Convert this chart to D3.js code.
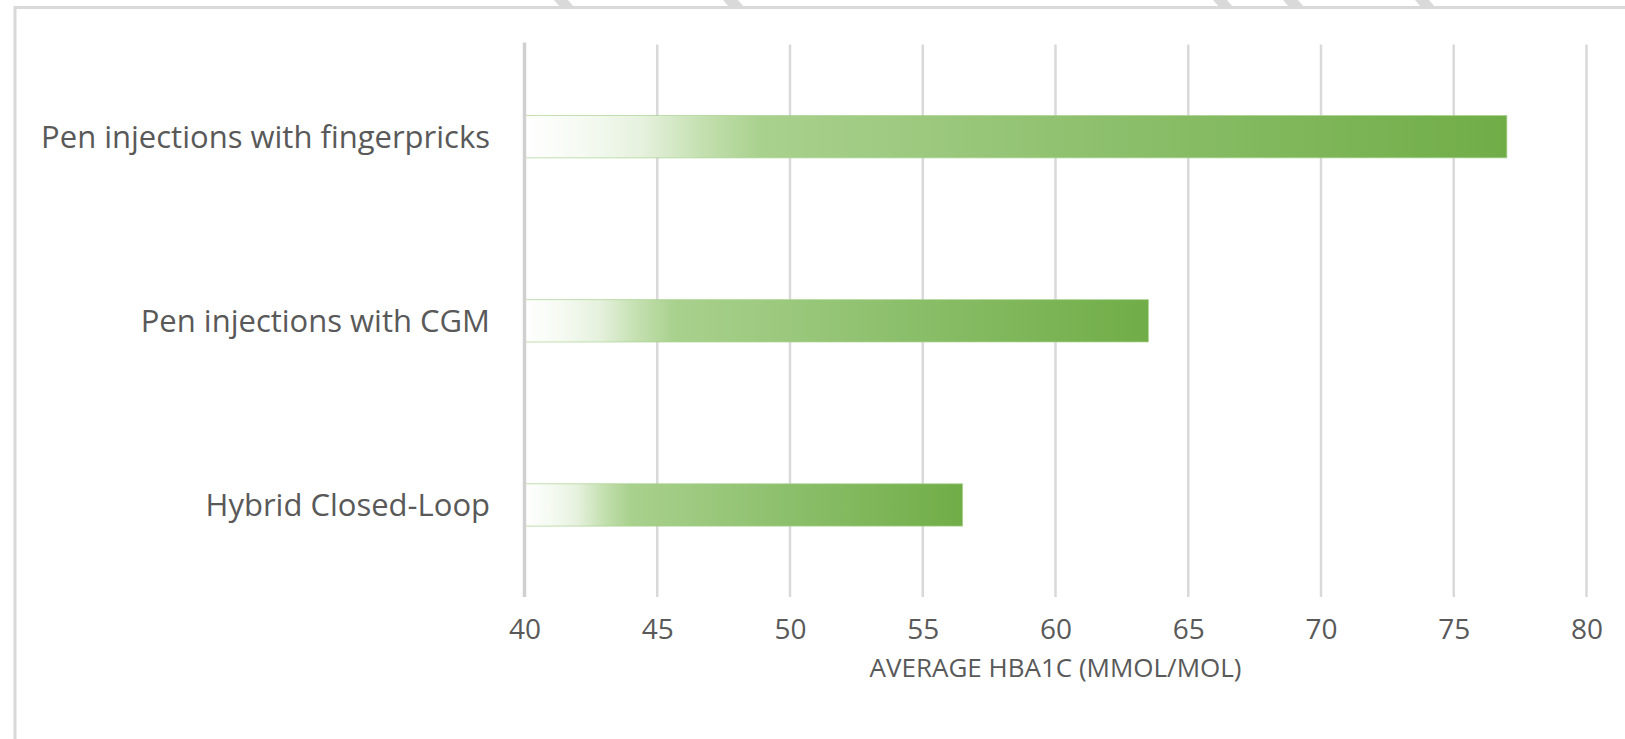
<!DOCTYPE html>
<html>
<head>
<meta charset="utf-8">
<script src="https://cdn.jsdelivr.net/npm/d3@7"></script>
<style>
  html, body { margin: 0; padding: 0; background: #ffffff; }
  svg { display: block; font-family: "Open Sans", "Noto Sans", sans-serif; }
</style>
</head>
<body>
<svg id="chart" width="1625" height="739"></svg>
<script>
// ---- data ----
const categories = ["Pen injections with fingerpricks", "Pen injections with CGM", "Hybrid Closed-Loop"];
const values = [77, 63.5, 56.5];
const xTicks = [40, 45, 50, 55, 60, 65, 70, 75, 80];
const xDomain = [40, 80];
const axisTitle = "AVERAGE HBA1C (MMOL/MOL)";

// ---- layout ----
const W = 1625, H = 739;
const plot = { left: 524.5, right: 1586.5, top: 44.6, bottom: 597 };
const textColor = "#595959";
const gridColor = "#d9d9d9";

const svg = d3.select("#chart");
svg.append("rect").attr("width", W).attr("height", H).attr("fill", "#ffffff");

// decorative fragments above the frame
const frags = [[554, 18], [723, 19], [1213, 18], [1283, 19], [1415, 18]];
svg.append("g").selectAll("polygon").data(frags).join("polygon")
  .attr("points", d => `${d[0]},0 ${d[0] + d[1] - 4},0 ${d[0] + d[1] + 2},7 ${d[0] + 6},7`)
  .attr("fill", "#d9d9d9");

// chart frame (partially visible)
svg.append("rect")
  .attr("x", 15).attr("y", 7.5).attr("width", W + 40).attr("height", H + 40)
  .attr("fill", "none").attr("stroke", "#d9d9d9").attr("stroke-width", 3);

const x = d3.scaleLinear().domain(xDomain).range([plot.left, plot.right]);
const y = d3.scaleBand().domain(categories).range([plot.top, plot.bottom])
  .paddingInner(0.77).paddingOuter(0.385);

// gradient
const defs = svg.append("defs");
const grad = defs.append("linearGradient").attr("id", "barGrad")
  .attr("x1", "0%").attr("x2", "100%").attr("y1", "0%").attr("y2", "0%");
[
  [0, "#ffffff"], [0.06, "#f5faf2"], [0.12, "#e6f1de"], [0.18, "#c4e0b0"],
  [0.24, "#a9d18e"], [0.6, "#8cbf6b"], [1, "#70ad47"]
].forEach(([o, c]) => grad.append("stop").attr("offset", o).attr("stop-color", c));

// gridlines
const gridG = svg.append("g");
gridG.selectAll("line").data(xTicks.slice(1)).join("line")
  .attr("x1", d => x(d)).attr("x2", d => x(d))
  .attr("y1", plot.top).attr("y2", plot.bottom)
  .attr("stroke", gridColor).attr("stroke-width", 2.5);

// bars
svg.append("g").selectAll("rect").data(categories).join("rect")
  .attr("x", x(xDomain[0]))
  .attr("y", d => y(d))
  .attr("width", (d, i) => x(values[i]) - x(xDomain[0]))
  .attr("height", y.bandwidth())
  .attr("fill", "url(#barGrad)")
  .attr("stroke", "rgba(169,209,142,0.7)")
  .attr("stroke-width", 1);

// vertical category axis line
svg.append("line")
  .attr("x1", x(xDomain[0])).attr("x2", x(xDomain[0]))
  .attr("y1", plot.top - 2).attr("y2", plot.bottom)
  .attr("stroke", "#d0d0d0").attr("stroke-width", 3.5);

// x axis tick labels
const xAxis = d3.axisBottom(x).tickValues(xTicks).tickSize(0).tickPadding(0).tickFormat(d3.format("d"));
const xg = svg.append("g").attr("transform", `translate(0,${plot.bottom})`).call(xAxis);
xg.select(".domain").remove();
xg.selectAll("text")
  .attr("y", 42).attr("dy", 0)
  .attr("fill", textColor)
  .style("font-size", "28px")
  .style("font-family", "'Open Sans', sans-serif");

// y axis category labels
const yAxis = d3.axisLeft(y).tickSize(0).tickPadding(0);
const yg = svg.append("g").attr("transform", `translate(490,0)`).call(yAxis);
yg.select(".domain").remove();
yg.selectAll("text")
  .attr("x", 0).attr("dy", "0.36em")
  .attr("fill", textColor)
  .style("font-size", "31px")
  .style("font-family", "'Open Sans', sans-serif");

// axis title
svg.append("text")
  .attr("x", (plot.left + plot.right) / 2)
  .attr("y", 677)
  .attr("text-anchor", "middle")
  .attr("fill", textColor)
  .style("font-size", "26px")
  .text(axisTitle);
</script>
</body>
</html>
